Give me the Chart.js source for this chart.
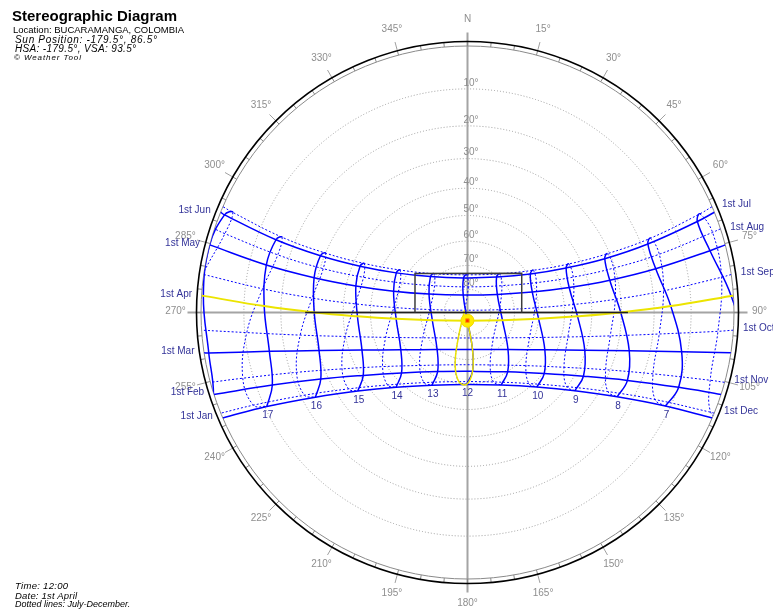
<!DOCTYPE html>
<html><head><meta charset="utf-8">
<script src="https://cdn.jsdelivr.net/npm/chart.js@4.4.0/dist/chart.umd.min.js"></script>
<style>
html,body{margin:0;padding:0;background:#fff;}
#wrap{position:relative;width:773px;height:613px;overflow:hidden;background:#fff;}
#c{position:absolute;left:0;top:0;width:773px;height:613px;}
.t{position:absolute;white-space:nowrap;font-family:"Liberation Sans",Arial,sans-serif;color:#000;line-height:1;}
.i{font-style:italic;}
</style></head><body>
<div id="wrap">
<canvas id="c" width="773" height="613"></canvas>
<div class="t" style="left:12px;top:8px;font-size:15px;font-weight:bold">Stereographic Diagram</div>
<div class="t" id="loc" style="left:13px;top:25px;font-size:9.5px"></div>
<div class="t i" id="sunpos" style="left:15px;top:34.5px;font-size:10px;letter-spacing:0.7px"></div>
<div class="t i" id="angles" style="left:15px;top:43.5px;font-size:10px;letter-spacing:0.35px"></div>
<div class="t i" style="left:14px;top:53.5px;font-size:8px;letter-spacing:0.9px">© Weather Tool</div>
<div class="t i" id="time" style="left:15px;top:580.5px;font-size:9.5px;letter-spacing:0.3px"></div>
<div class="t i" id="date" style="left:15px;top:590.5px;font-size:9.5px;letter-spacing:0.2px"></div>
<div class="t i" style="left:15px;top:599.5px;font-size:9px">Dotted lines: July-December.</div>
</div>
<script>
// ---- site and selected instant ----
const location_ = 'BUCARAMANGA, COLOMBIA';
const clockTime = '12:00';
const clockDate = '1st April';
const sunPosition = [-179.5, 86.5];   // azimuth, altitude
const shadeAngles = [-179.5, 93.5];   // HSA, VSA

// ---- sun path table: 1st of each month, clock hours 6..18 ----
const months = ['Jan','Feb','Mar','Apr','May','Jun','Jul','Aug','Sep','Oct','Nov','Dec'];
const dateLabels = ['1st Jan','1st Feb','1st Mar','1st Apr','1st May','1st Jun','1st Jul','1st Aug','1st Sep','1st Oct','1st Nov','1st Dec'];
const hours = [6,7,8,9,10,11,12,13,14,15,16,17,18];
const labelledHours = [7,8,9,10,11,12,13,14,15,16,17];

const azJan = [113.0,115.3,119.4,126.1,137.1,155.1,180.7,206.1,223.7,234.4,240.9,244.9,247.1];
const altJan = [-2.4,11.2,24.4,37.0,48.2,56.6,59.8,56.2,47.6,36.3,23.7,10.5,-3.2];
const azFeb = [107.4,109.5,113.0,118.8,128.5,145.9,175.1,206.8,227.5,238.9,245.6,249.6,252.1];
const altFeb = [-4.2,9.9,23.8,37.2,49.6,59.9,65.0,62.1,52.9,40.9,27.7,14.0,-0.1];
const azMar = [98.4,100.4,103.3,107.8,115.7,132.5,172.3,219.3,240.8,250.4,255.6,258.9,261.1];
const altMar = [-3.2,11.5,26.1,40.4,54.3,66.7,74.1,69.6,58.0,44.4,30.2,15.7,1.0];
const azApr = [86.4,88.2,90.0,92.0,95.1,102.5,180.4,257.6,264.9,268.0,270.0,271.8,273.6];
const altApr = [0.5,15.3,30.2,45.1,60.0,74.7,86.5,74.6,59.9,45.1,30.2,15.3,0.4];
const azMay = [75.7,76.9,77.2,76.2,72.5,58.8,346.2,295.6,286.1,283.4,282.8,283.3,284.7];
const altMay = [3.6,18.1,32.6,47.1,61.4,75.1,82.3,71.8,57.8,43.4,28.9,14.4,0.0];
const azJun = [68.4,69.2,68.6,65.7,58.5,39.4,353.5,314.1,299.1,293.3,291.1,290.8,291.9];
const altJun = [4.3,18.2,32.1,45.8,59.1,70.5,75.1,68.1,56.0,42.6,28.8,14.9,1.0];
const azJul = [67.0,67.9,67.2,64.4,57.3,39.7,358.8,319.1,302.2,295.4,292.7,292.1,293.1];
const altJul = [3.1,16.9,30.7,44.3,57.3,68.6,73.9,68.2,56.7,43.6,30.0,16.2,2.5];
const azAug = [71.9,73.1,73.1,71.5,66.6,52.1,1.6,309.1,293.8,288.7,286.9,286.9,288.0];
const altAug = [1.9,16.1,30.4,44.6,58.5,71.4,79.0,71.9,59.1,45.2,31.0,16.7,2.5];
const azSep = [82.1,83.7,84.9,85.7,86.1,85.0,308.0,274.5,273.9,274.4,275.3,276.6,278.2];
const altSep = [2.2,17.0,31.8,46.7,61.5,76.3,88.4,73.9,59.0,44.2,29.3,14.5,-0.2];
const azOct = [94.3,96.4,99.3,103.7,112.0,134.4,199.9,240.5,253.1,258.9,262.3,264.8,266.7];
const altOct = [3.4,18.2,33.0,47.6,61.8,74.5,78.4,68.2,54.4,39.9,25.3,10.5,-4.4];
const azNov = [105.6,108.3,112.5,119.6,132.3,156.6,193.3,222.1,237.5,245.8,250.7,253.7,255.6];
const altNov = [3.2,17.5,31.4,44.8,57.0,65.8,67.2,60.0,48.6,35.4,21.6,7.4,-6.9];
const azDec = [112.3,114.9,119.4,126.8,139.2,159.5,187.1,211.8,227.8,237.3,243.1,246.6,248.5];
const altDec = [0.8,14.4,27.7,40.2,51.2,58.9,60.7,55.6,45.9,34.1,21.1,7.6,-6.1];

// sunrise / sunset azimuths on the horizon
const riseAz = [113.3,107.9,98.7,86.4,75.3,67.9,66.6,71.7,81.8,93.8,105.2,112.2];
const setAz = [246.7,252.1,261.3,273.6,284.7,292.1,293.4,288.3,278.2,266.2,254.8,247.8];

// shading outline (azimuth, altitude of its corners) and its horizontal edge
const maskAz = [270, 306.7, 54.1, 90];
const maskAlt = [67.7, 62.4, 61.8, 67.0];
const edgeAz = [270, 90];
const edgeAlt = [27.3, 27.9];

// grid
const altRings = [10,20,30,40,50,60,70,80];

const azTable = [azJan,azFeb,azMar,azApr,azMay,azJun,azJul,azAug,azSep,azOct,azNov,azDec];
const altTable = [altJan,altFeb,altMar,altApr,altMay,altJun,altJul,altAug,altSep,altOct,altNov,altDec];

document.getElementById('loc').textContent = 'Location: ' + location_;
document.getElementById('sunpos').textContent = 'Sun Position: ' + sunPosition[0] + '°, ' + sunPosition[1] + '°';
document.getElementById('angles').textContent = 'HSA: ' + shadeAngles[0] + '°, VSA: ' + shadeAngles[1] + '°';
document.getElementById('time').textContent = 'Time: ' + clockTime;
document.getElementById('date').textContent = 'Date: ' + clockDate;

// stereographic projection: horizon = unit circle, north up, east right
const D2R = Math.PI / 180;
function project(az, alt) {
  const r = Math.tan((90 - alt) / 2 * D2R);
  return { x: r * Math.sin(az * D2R), y: r * Math.cos(az * D2R) };
}

const BLUE = '#0000ff';
const YELLOW = '#ece400';
const datasets = [];

// date lines (sunrise -> daylight hours -> sunset)
months.forEach((m, i) => {
  const pts = [project(riseAz[i], 0)];
  hours.forEach((h, k) => { if (altTable[i][k] > 0) pts.push(project(azTable[i][k], altTable[i][k])); });
  pts.push(project(setAz[i], 0));
  const secondHalf = i >= 6;
  const current = i === 3;
  datasets.push({
    data: pts, showLine: true, pointRadius: 0, tension: 0.4, clip: false,
    borderColor: current ? YELLOW : BLUE,
    borderWidth: current ? 2 : (secondHalf ? 1 : 1.5),
    borderDash: secondHalf ? [2, 2] : [],
    order: current ? 3 : 6
  });
});

// hour lines through the year (Jan..Jun solid, Jul..Dec dotted)
hours.forEach((h, k) => {
  const pts = months.map((m, i) => project(azTable[i][k], altTable[i][k]));
  pts.push(project(azTable[0][k], altTable[0][k]));
  datasets.push({
    data: pts, showLine: true, pointRadius: 0, tension: 0.4, clip: false,
    borderColor: BLUE, borderWidth: 1.5, borderDash: [],
    segment: {
      borderDash: c => c.p0DataIndex >= 6 ? [2, 2] : undefined,
      borderWidth: c => c.p0DataIndex >= 6 ? 1 : undefined
    },
    order: 5
  });
});

// noon line south of the sun, highlighted
(function () {
  const k = hours.indexOf(12);
  const idx = [8, 9, 10, 11, 0, 1, 2, 3];
  datasets.push({
    data: idx.map(i => project(azTable[i][k], altTable[i][k])),
    showLine: true, pointRadius: 0, tension: 0.4, clip: false,
    borderColor: YELLOW, borderWidth: 1.5, order: 3
  });
})();

// shading outline
datasets.push({
  data: maskAz.map((a, i) => project(a, maskAlt[i])),
  showLine: true, pointRadius: 0, tension: 0, clip: false,
  borderColor: '#3c3c3c', borderWidth: 1.5, order: 2
});
datasets.push({
  data: edgeAz.map((a, i) => project(a, edgeAlt[i])),
  showLine: true, pointRadius: 0, tension: 0, clip: false,
  borderColor: '#202020', borderWidth: 1.5, order: 2
});

// sun
const sunAzDeg = (sunPosition[0] + 360) % 360;
datasets.push({
  data: [project(sunAzDeg, sunPosition[1])], showLine: false, clip: false,
  pointRadius: 6.5, pointStyle: 'circle', pointBackgroundColor: '#ffec00', pointBorderColor: '#f4d800', pointBorderWidth: 1, order: 1
});
datasets.push({
  data: [project(sunAzDeg, sunPosition[1])], showLine: false, clip: false,
  pointRadius: 2.5, pointStyle: 'rect', pointBackgroundColor: '#ff2a00', pointBorderColor: '#ff9a00', pointBorderWidth: 1, order: 0
});

const R_OUT = 271 / 266.5, R_AXIS = 280 / 266.5, R_LABEL = 292 / 266.5;

const skyFrame = {
  id: 'skyFrame',
  beforeDatasetsDraw(chart) {
    const { ctx, scales: { x, y } } = chart;
    const cx = x.getPixelForValue(0), cy = y.getPixelForValue(0);
    const u = x.getPixelForValue(1) - cx;
    ctx.save();
    // altitude rings
    ctx.strokeStyle = '#9c9c9c'; ctx.lineWidth = 1; ctx.setLineDash([1, 2]);
    altRings.forEach(a => {
      const r = Math.tan((90 - a) / 2 * D2R) * u;
      ctx.beginPath(); ctx.arc(cx, cy, r, 0, 2 * Math.PI); ctx.stroke();
    });
    ctx.setLineDash([]);
    // main axes
    ctx.strokeStyle = '#a4a4a4'; ctx.lineWidth = 2;
    ctx.beginPath();
    ctx.moveTo(cx, cy - R_AXIS * u); ctx.lineTo(cx, cy + R_AXIS * u);
    ctx.moveTo(cx - R_AXIS * u, cy); ctx.lineTo(cx + R_AXIS * u, cy);
    ctx.stroke();
    // azimuth ring
    ctx.lineWidth = 1; ctx.strokeStyle = '#8a8a8a';
    ctx.beginPath(); ctx.arc(cx, cy, u, 0, 2 * Math.PI); ctx.stroke();
    ctx.beginPath();
    for (let a = 0; a < 360; a += 5) {
      const s = Math.sin(a * D2R), c = Math.cos(a * D2R);
      ctx.moveTo(cx + s * u, cy - c * u); ctx.lineTo(cx + s * R_OUT * u, cy - c * R_OUT * u);
    }
    ctx.stroke();
    ctx.strokeStyle = '#a0a0a0';
    ctx.beginPath();
    for (let a = 15; a < 360; a += 15) {
      if (a % 90 === 0) continue;
      const s = Math.sin(a * D2R), c = Math.cos(a * D2R);
      ctx.moveTo(cx + s * R_OUT * u, cy - c * R_OUT * u); ctx.lineTo(cx + s * R_AXIS * u, cy - c * R_AXIS * u);
    }
    ctx.stroke();
    ctx.strokeStyle = '#000'; ctx.lineWidth = 1.6;
    ctx.beginPath(); ctx.arc(cx, cy, R_OUT * u, 0, 2 * Math.PI); ctx.stroke();
    // azimuth labels
    ctx.fillStyle = '#8e8e8e'; ctx.font = '10px "Liberation Sans", Arial, sans-serif';
    ctx.textAlign = 'center'; ctx.textBaseline = 'middle';
    for (let a = 0; a < 360; a += 15) {
      const s = Math.sin(a * D2R), c = Math.cos(a * D2R);
      ctx.fillText(a === 0 ? 'N' : a + '°', cx + s * R_LABEL * u, cy - c * R_LABEL * u - 1);
    }
    // altitude labels
    ctx.textAlign = 'left';
    altRings.forEach(a => {
      const r = Math.tan((90 - a) / 2 * D2R) * u;
      ctx.fillText(a + '°', cx - 4, cy - r - 6);
    });
    ctx.restore();
    // keep the sun paths inside the horizon
    ctx.save();
    ctx.beginPath(); ctx.arc(cx, cy, u, 0, 2 * Math.PI); ctx.clip();
  },
  afterDatasetsDraw(chart) {
    const { ctx, scales: { x, y } } = chart;
    ctx.restore();
    const cx = x.getPixelForValue(0), cy = y.getPixelForValue(0);
    const u = x.getPixelForValue(1) - cx;
    ctx.save();
    ctx.fillStyle = '#333399'; ctx.font = '10px "Liberation Sans", Arial, sans-serif';
    ctx.textBaseline = 'middle';
    // date labels at the horizon ends
    months.forEach((m, i) => {
      const east = i >= 6;
      const p = project(east ? riseAz[i] : setAz[i], 0);
      const py = y.getPixelForValue(p.y);
      const dy = py - cy;
      const ring = Math.sqrt(Math.max(0, (R_OUT * u) ** 2 - dy * dy));
      ctx.textAlign = east ? 'left' : 'right';
      ctx.fillText(dateLabels[i], east ? cx + ring + 5 : cx - ring - 5, py - 2);
    });
    // hour labels below the 1st Jan line
    ctx.textAlign = 'center';
    labelledHours.forEach(h => {
      const k = hours.indexOf(h);
      const p = project(azTable[0][k], altTable[0][k]);
      ctx.fillText(String(h), x.getPixelForValue(p.x) + 1, y.getPixelForValue(p.y) + 9);
    });
    ctx.restore();
  }
};

new Chart(document.getElementById('c'), {
  type: 'scatter',
  data: { datasets },
  options: {
    responsive: false, animation: false, devicePixelRatio: 1,
    layout: { padding: { left: 201, top: 46, right: 39, bottom: 34 } },
    scales: {
      x: { type: 'linear', min: -1, max: 1, display: false },
      y: { type: 'linear', min: -1, max: 1, display: false }
    },
    plugins: { legend: { display: false }, tooltip: { enabled: false }, title: { display: false } },
    elements: { line: { capBezierPoints: false } }
  },
  plugins: [skyFrame]
});
</script>
</body></html>
